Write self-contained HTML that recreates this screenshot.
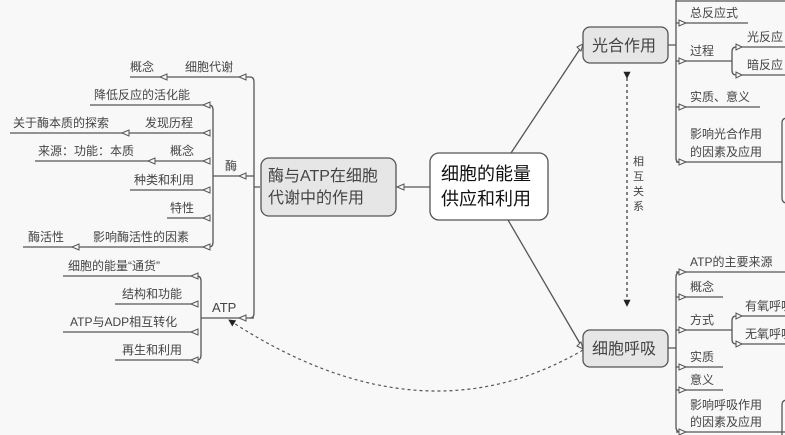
<!DOCTYPE html>
<html><head><meta charset="utf-8"><style>
html,body{margin:0;padding:0;background:#f8f8f8;}
svg{display:block;}
text{font-family:"Liberation Sans","Noto Sans CJK SC",sans-serif;fill:#444;font-size:12px;}
.l{stroke:#555;stroke-width:1.3;fill:none;}
.a{fill:#f8f8f8;stroke:#555;stroke-width:1;}
</style></head><body>
<svg width="785" height="435" viewBox="0 0 785 435">
<defs>
<marker id="da" viewBox="0 0 8 8" refX="7" refY="4" markerWidth="6" markerHeight="6" orient="auto"><path d="M0,0 L8,4 L0,8 Z" fill="#222"/></marker>
</defs>

<path class="l" d="M260,187 H254 M250,77 Q254,77 254,82 V313 Q254,318 250,318"/>
<line class="l" x1="130" y1="77" x2="250" y2="77"/>
<polygon class="a" points="239,77 246,74 246,80"/>
<polygon class="a" points="160,77 167,74 167,80"/>
<text x="185" y="71">细胞代谢</text>
<text x="130" y="71">概念</text>
<line class="l" x1="213" y1="176" x2="254" y2="176"/>
<polygon class="a" points="239,176 246,173 246,179"/>
<text x="225" y="170">酶</text>
<path class="l" d="M209,105 Q213,105 213,110 V242 Q213,247 209,247"/>
<line class="l" x1="90" y1="105" x2="210" y2="105"/><polygon class="a" points="203,105 210,102 210,108"/>
<text x="94" y="99">降低反应的活化能</text>
<line class="l" x1="10" y1="133" x2="210" y2="133"/><polygon class="a" points="203,133 210,130 210,136"/><polygon class="a" points="122,133 129,130 129,136"/>
<text x="145" y="127">发现历程</text><text x="13" y="127">关于酶本质的探索</text>
<line class="l" x1="35" y1="161" x2="210" y2="161"/><polygon class="a" points="203,161 210,158 210,164"/><polygon class="a" points="148,161 155,158 155,164"/>
<text x="170" y="155">概念</text><text x="38" y="155">来源：功能：本质</text>
<line class="l" x1="130" y1="190" x2="210" y2="190"/><polygon class="a" points="203,190 210,187 210,193"/>
<text x="134" y="184">种类和利用</text>
<line class="l" x1="167" y1="218" x2="210" y2="218"/><polygon class="a" points="203,218 210,215 210,221"/>
<text x="170" y="212">特性</text>
<line class="l" x1="23" y1="247" x2="210" y2="247"/><polygon class="a" points="203,247 210,244 210,250"/><polygon class="a" points="72,247 79,244 79,250"/>
<text x="93" y="241">影响酶活性的因素</text><text x="28" y="241">酶活性</text>
<line class="l" x1="201" y1="318" x2="254" y2="318"/><polygon class="a" points="239,318 246,315 246,321"/>
<text x="212" y="312" style="font-size:13px">ATP</text>
<path class="l" d="M197,276 Q201,276 201,281 V355 Q201,360 197,360"/>
<line class="l" x1="63" y1="276" x2="198" y2="276"/><polygon class="a" points="191,276 198,273 198,279"/>
<text x="68" y="270">细胞的能量“通货”</text>
<line class="l" x1="115" y1="304" x2="198" y2="304"/><polygon class="a" points="191,304 198,301 198,307"/>
<text x="122" y="298">结构和功能</text>
<line class="l" x1="63" y1="332" x2="198" y2="332"/><polygon class="a" points="191,332 198,329 198,335"/>
<text x="70" y="326">ATP与ADP相互转化</text>
<line class="l" x1="115" y1="360" x2="198" y2="360"/><polygon class="a" points="191,360 198,357 198,363"/>
<text x="122" y="354">再生和利用</text>

<rect x="261" y="158" width="135" height="58" rx="8" fill="#e6e6e6" stroke="#555" stroke-width="1.3"/>
<text x="268" y="181" style="font-size:16px;fill:#444">酶与ATP在细胞</text>
<text x="268" y="203" style="font-size:16px;fill:#444">代谢中的作用</text>
<line class="l" x1="397" y1="187" x2="430" y2="187"/><polygon class="a" points="397,187 404,184 404,190"/>

<rect x="430" y="153" width="118" height="67" rx="9" fill="#fff" stroke="#555" stroke-width="1.3"/>
<text x="441" y="180" style="font-size:18px;fill:#111">细胞的能量</text>
<text x="441" y="205" style="font-size:18px;fill:#111">供应和利用</text>

<line class="l" x1="511" y1="153" x2="582" y2="46" />
<polygon class="a" points="583,44 577,47 581,51"/>
<line class="l" x1="508" y1="220" x2="582" y2="347"/>
<polygon class="a" points="583,349 577,346 581,342"/>

<path d="M583,350 Q420,445 229,320" fill="none" stroke="#555" stroke-width="1.2" stroke-dasharray="3,3" marker-end="url(#da)"/>
<line x1="627" y1="78" x2="627" y2="306" stroke="#333" stroke-width="1.2" stroke-dasharray="3,3" marker-start="url(#da)" marker-end="url(#da)"/>
<text x="633" y="165" style="font-size:11px">相</text><text x="633" y="180" style="font-size:11px">互</text>
<text x="633" y="195" style="font-size:11px">关</text><text x="633" y="210" style="font-size:11px">系</text>

<rect x="583" y="27" width="85" height="36" rx="7" fill="#e6e6e6" stroke="#555" stroke-width="1.3"/>
<text x="592" y="51" style="font-size:16px">光合作用</text>
<path class="l" d="M668,45 H676 M676,0 V158 Q676,163 681,163"/>
<line class="l" x1="676" y1="1" x2="785" y2="1"/>
<line class="l" x1="676" y1="23" x2="748" y2="23"/><polygon class="a" points="686,23 679,20 679,26"/>
<text x="690" y="17">总反应式</text>
<line class="l" x1="676" y1="61" x2="732" y2="61"/><polygon class="a" points="686,61 679,58 679,64"/>
<text x="690" y="55">过程</text>
<path class="l" d="M736,47 Q732,47 732,52 V70 Q732,75 736,75 M736,47 H785 M736,75 H785"/>
<polygon class="a" points="742,47 736,44 736,50"/><polygon class="a" points="742,75 736,72 736,78"/>
<text x="747" y="41">光反应</text><text x="747" y="69">暗反应</text>
<line class="l" x1="676" y1="107" x2="760" y2="107"/><polygon class="a" points="686,107 679,104 679,110"/>
<text x="690" y="101">实质、意义</text>
<line class="l" x1="676" y1="162" x2="782" y2="162"/><polygon class="a" points="686,162 679,159 679,165"/>
<text x="690" y="138">影响光合作用</text><text x="690" y="156">的因素及应用</text>
<path class="l" d="M790,118 H787 Q782,118 782,123 V198 Q782,203 787,203 H790"/>

<rect x="583" y="330" width="85" height="37" rx="7" fill="#e6e6e6" stroke="#555" stroke-width="1.3"/>
<text x="592" y="354" style="font-size:16px">细胞呼吸</text>
<path class="l" d="M668,348 H676 M681,272 Q676,272 676,277 V427 Q676,432 681,432"/>
<line class="l" x1="676" y1="272" x2="785" y2="272"/><polygon class="a" points="686,272 679,269 679,275"/>
<text x="690" y="266" style="font-size:12px">ATP的主要来源</text>
<line class="l" x1="676" y1="297" x2="723" y2="297"/><polygon class="a" points="686,297 679,294 679,300"/>
<text x="690" y="291">概念</text>
<line class="l" x1="676" y1="330" x2="732" y2="330"/><polygon class="a" points="686,330 679,327 679,333"/>
<text x="690" y="324">方式</text>
<path class="l" d="M736,316 Q732,316 732,321 V339 Q732,344 736,344 M736,316 H785 M736,344 H785"/>
<polygon class="a" points="742,316 736,313 736,319"/><polygon class="a" points="742,344 736,341 736,347"/>
<text x="745" y="310">有氧呼吸</text><text x="745" y="338">无氧呼吸</text>
<line class="l" x1="676" y1="367" x2="723" y2="367"/><polygon class="a" points="686,367 679,364 679,370"/>
<text x="690" y="361">实质</text>
<line class="l" x1="676" y1="390" x2="723" y2="390"/><polygon class="a" points="686,390 679,387 679,393"/>
<text x="690" y="384">意义</text>
<line class="l" x1="676" y1="432" x2="785" y2="432"/><polygon class="a" points="686,432 679,429 679,435"/>
<text x="690" y="409">影响呼吸作用</text><text x="690" y="426">的因素及应用</text>
<path class="l" d="M790,400 H787 Q782,400 782,405 V435"/>
</svg>
</body></html>
